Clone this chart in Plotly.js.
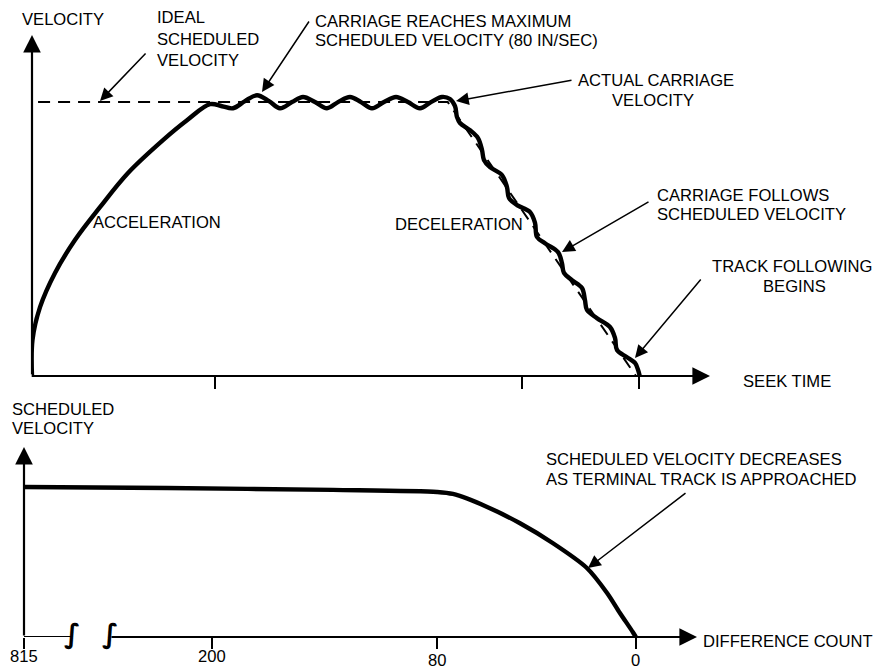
<!DOCTYPE html>
<html>
<head>
<meta charset="utf-8">
<script src="https://cdn.plot.ly/plotly-3.0.1.min.js"></script>
<style>html,body{margin:0;padding:0;background:#fff;}#chart{width:878px;height:670px;}</style>
</head>
<body>
<div id="chart"></div>
<script>
// ---- Data ----
// Top panel: seek time (arbitrary units, 100 = end of seek) vs velocity (in/sec)
const idealTime = [1.0, 68.5, 99.5];
const idealVelocity = [80, 80, 0];

const actualTime = [0, 0.08, 1.32, 3.79, 7.08, 11.2, 15.82, 21.58, 25.54, 29.33,
  31.3, 33.11, 35.09, 37.07, 39.04, 40.86, 42.83, 44.65, 46.62, 48.6, 50.41, 52.39,
  54.2, 56.01, 57.99, 59.97, 61.94, 63.92, 65.73, 67.55, 68.86, 69.69,
  70.02, 70.51, 72.16, 73.48, 74.14, 74.46, 75.45, 77.43, 78.25, 78.58, 79.9, 82.04,
  82.87, 83.2, 84.51, 86.66, 87.31, 87.64, 88.96, 90.61, 91.1, 91.43, 93.08, 95.22,
  96.05, 96.38, 98.02, 99.34, 99.84, 100.16];
const actualVelocity = [0, 10.5, 20.1, 30.1, 39.7, 49.3, 59.3, 68.9, 74.7, 79.4,
  78.8, 78.2, 80.3, 82.0, 80.3, 78.2, 80.0, 81.5, 80.0, 78.2, 80.0, 81.5,
  80.0, 78.2, 80.0, 81.5, 80.0, 78.2, 80.0, 81.5, 80.9, 78.8,
  75.6, 73.9, 71.8, 69.5, 66.0, 63.1, 61.0, 58.7, 55.2, 52.0, 49.9, 47.9,
  44.7, 40.6, 38.8, 36.2, 33.0, 30.1, 28.0, 25.7, 22.2, 19.3, 16.9, 14.3,
  11.1, 7.6, 5.5, 3.8, 1.8, -0.3];
const seekTicks = [30.1, 80.7, 100];

// Bottom panel: difference count (schematic position) vs scheduled velocity
const countPos = [0, 23.4, 50.5, 67.5, 70.1, 75.7, 81.0, 86.4, 92.0, 95.3, 97.4, 99.5, 100];
const scheduledVelocity = [81.1, 80.5, 79.5, 78.4, 77.3, 70.3, 61.6, 50.8, 37.3, 23.8, 13.0, 2.7, 0];
const countTickPos = [0, 30.7, 67.5, 100];
const countTickLabels = ['815', '200', '80', '0'];

// ---- Drawing ----
const W = 878, H = 670;
const FONT = {family: 'Liberation Sans, Arial, sans-serif', size: 16.6, color: '#000'};
function px(x) { return x / W; }
function py(y) { return 1 - y / H; }

const traces = [
  {x: idealTime, y: idealVelocity, xaxis: 'x', yaxis: 'y', mode: 'lines',
   line: {color: '#000', width: 2, dash: '12px,8px'}, cliponaxis: false, hoverinfo: 'skip'},
  {x: actualTime, y: actualVelocity, xaxis: 'x', yaxis: 'y', mode: 'lines',
   line: {color: '#000', width: 4.4, shape: 'spline', smoothing: 1}, cliponaxis: false, hoverinfo: 'skip'},
  {x: countPos, y: scheduledVelocity, xaxis: 'x2', yaxis: 'y2', mode: 'lines',
   line: {color: '#000', width: 4.4, shape: 'spline', smoothing: 0.8}, cliponaxis: false, hoverinfo: 'skip'}
];

function label(text, x, y, anchor) {
  return {xref: 'paper', yref: 'paper', x: px(x), y: py(y), text: text, showarrow: false,
    xanchor: anchor || 'left', yanchor: 'middle', font: FONT, borderpad: 0};
}
function pointer(tx, ty, ax, ay) {
  return {xref: 'paper', yref: 'paper', x: px(tx), y: py(ty), ax: ax, ay: ay, text: '',
    showarrow: true, arrowhead: 2, arrowsize: 1.7, arrowwidth: 1.5, arrowcolor: '#000', standoff: 0};
}
function axisArrow(xr, yr, tx, ty, fx, fy) {
  return {xref: xr, yref: yr, x: tx, y: ty, axref: xr, ayref: yr, ax: fx, ay: fy, text: '',
    showarrow: true, arrowhead: 2, arrowsize: 1.6, arrowwidth: 2.2, arrowcolor: '#000', standoff: 0};
}

const annotations = [
  // top labels
  label('VELOCITY', 21, 20),
  label('IDEAL', 156, 18),
  label('SCHEDULED', 156, 40),
  label('VELOCITY', 156, 60),
  label('CARRIAGE REACHES MAXIMUM', 314, 21),
  label('SCHEDULED VELOCITY (80 IN/SEC)', 314, 40.5),
  label('ACTUAL CARRIAGE', 656, 81, 'center'),
  label('VELOCITY', 653, 100.5, 'center'),
  label('ACCELERATION', 92, 222),
  label('DECELERATION', 394, 224),
  label('CARRIAGE FOLLOWS', 656, 195.5),
  label('SCHEDULED VELOCITY', 656, 215),
  label('TRACK FOLLOWING', 792, 266, 'center'),
  label('BEGINS', 794, 286, 'center'),
  label('SEEK TIME', 742, 381),
  // bottom labels
  label('SCHEDULED', 11, 409),
  label('VELOCITY', 11, 428.5),
  label('SCHEDULED VELOCITY DECREASES', 545, 459.5),
  label('AS TERMINAL TRACK IS APPROACHED', 545, 479),
  label('DIFFERENCE COUNT', 702, 641),
  // pointers
  pointer(100, 101, 47, -49),
  pointer(262, 92, 48, -72),
  pointer(456, 101, 117, -21),
  pointer(562, 252, 88, -51),
  pointer(635, 358, 67, -80),
  pointer(588, 568, 99, -76),
  // axes
  axisArrow('x', 'y', 0, 99.6, 0, 0),
  axisArrow('x', 'y', 111.7, 0, -0.3, 0),
  axisArrow('x2', 'y2', 0, 102.7, 0, 0),
  axisArrow('x2', 'y2', 110, 0, 14.05, 0),
  // axis break marks
  {xref: 'x2', yref: 'y2', x: 7.84, y: 1.8, text: '<b>∫</b>', showarrow: false,
   font: {family: 'DejaVu Sans', size: 27, color: '#000'}},
  {xref: 'x2', yref: 'y2', x: 14.05, y: 1.8, text: '<b>∫</b>', showarrow: false,
   font: {family: 'DejaVu Sans', size: 27, color: '#000'}}
];
// tick labels of the difference-count axis
const tickLabelY = [656, 656, 660, 660];
countTickPos.forEach(function (u, i) {
  annotations.push({xref: 'x2', yref: 'paper', x: u, y: py(tickLabelY[i]), text: countTickLabels[i],
    showarrow: false, xanchor: 'center', yanchor: 'middle', font: FONT, borderpad: 0});
});

const hidden = {showgrid: false, zeroline: false, showline: false, showticklabels: false, ticks: ''};
const layout = {
  width: W, height: H, margin: {l: 0, r: 0, t: 0, b: 0},
  paper_bgcolor: '#fff', plot_bgcolor: 'rgba(0,0,0,0)', showlegend: false,
  xaxis: Object.assign({}, hidden, {domain: [32 / W, 710 / W], range: [0, 111.7], anchor: 'y',
    tickmode: 'array', tickvals: seekTicks, ticks: 'outside', ticklen: 12, tickwidth: 2, tickcolor: '#000'}),
  yaxis: Object.assign({}, hidden, {domain: [py(376), py(35)], range: [0, 99.6], anchor: 'x'}),
  xaxis2: Object.assign({}, hidden, {domain: [24 / W, 697 / W], range: [0, 110], anchor: 'y2',
    tickmode: 'array', tickvals: countTickPos, ticks: 'outside', ticklen: 11, tickwidth: 2, tickcolor: '#000'}),
  yaxis2: Object.assign({}, hidden, {domain: [py(637), py(447)], range: [0, 102.7], anchor: 'x2'}),
  shapes: [
    {type: 'line', xref: 'x2', yref: 'y2', x0: 0, y0: 0, x1: 7.84, y1: 0, line: {color: '#000', width: 2}}
  ],
  annotations: annotations
};

Plotly.newPlot('chart', traces, layout, {staticPlot: true, displayModeBar: false});
</script>
</body>
</html>
